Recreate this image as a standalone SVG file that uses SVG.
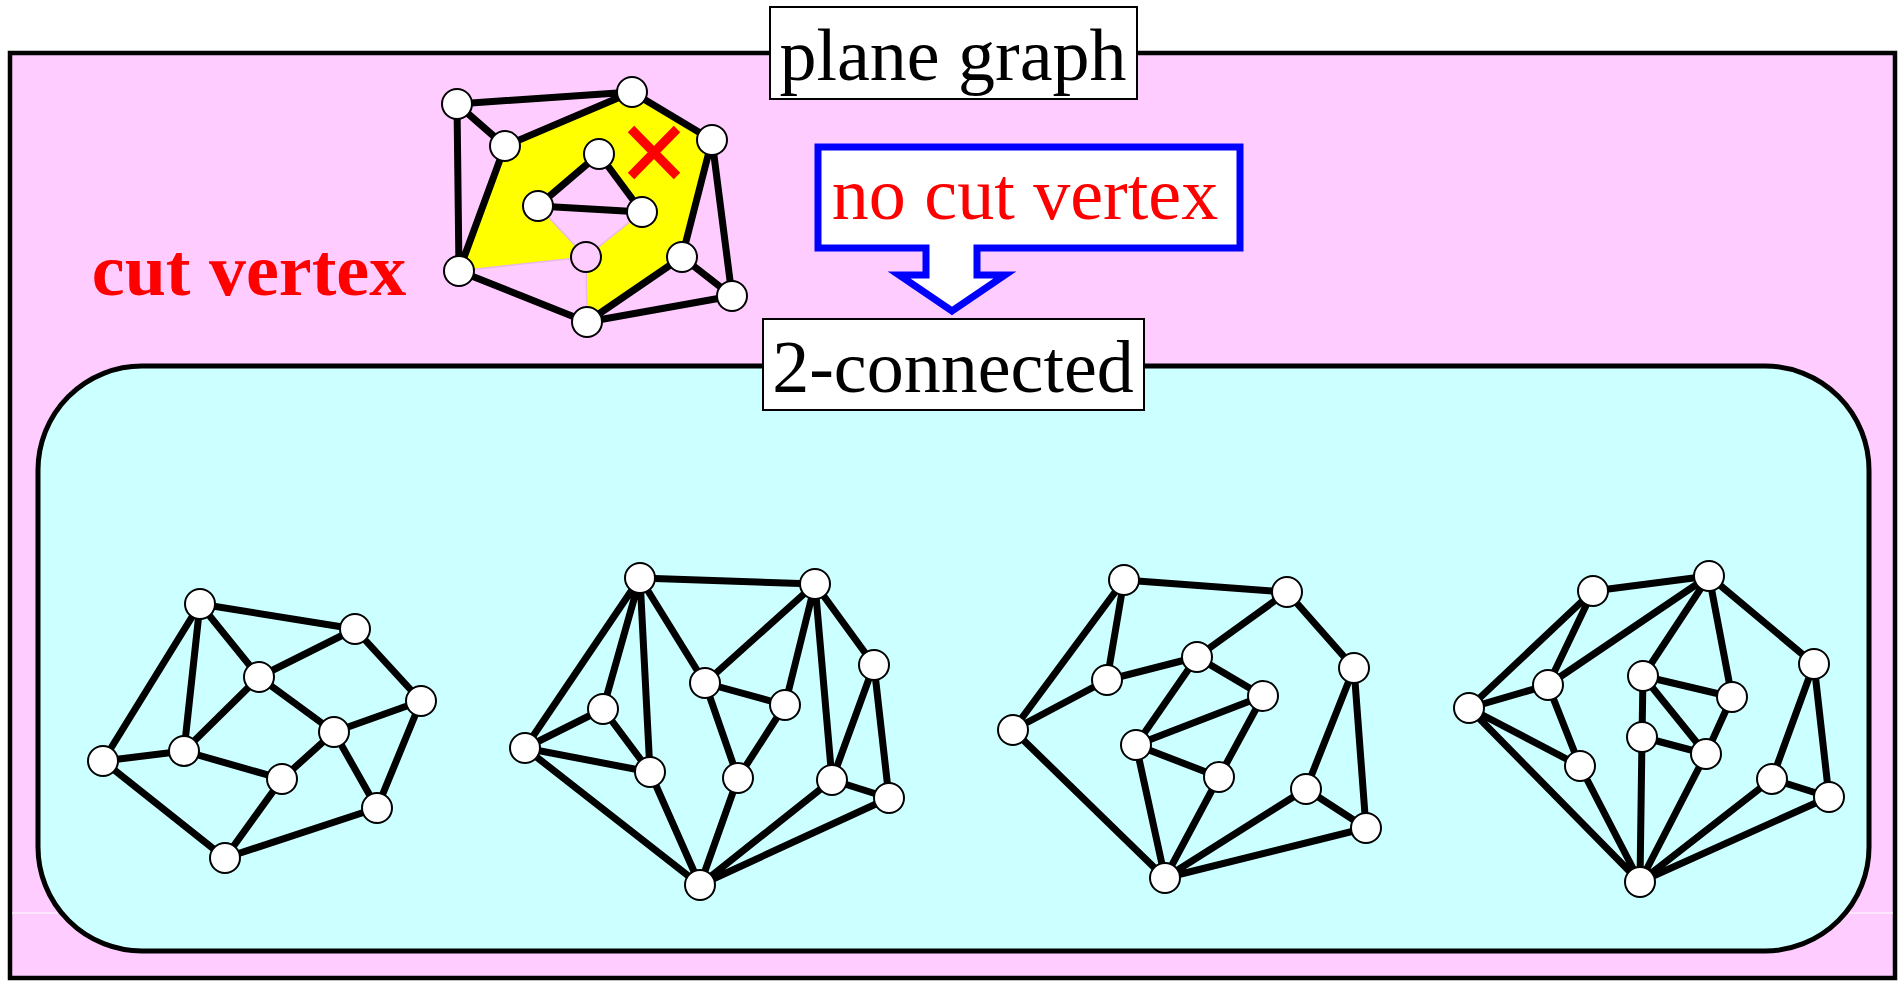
<svg xmlns="http://www.w3.org/2000/svg" width="1898" height="981" viewBox="0 0 1898 981">
<style>
.e{stroke:#000;stroke-width:7;fill:none;stroke-linecap:round}
.n{fill:#fff;stroke:#000;stroke-width:2}
.t{stroke:#E8B8E8;stroke-width:1.5;fill:none}
.lbl{fill:#fff;stroke:#000;stroke-width:2}
.txt{font-family:"Liberation Serif","Times New Roman",serif;font-size:74px;text-anchor:middle}
</style>
<rect width="1898" height="981" fill="#fff"/>
<g id="plane">
<rect x="10" y="53" width="1885" height="925" fill="#FFCCFF" stroke="#000" stroke-width="4.5"/>
<line x1="12" y1="913" x2="60" y2="913" stroke="#fff" stroke-width="1"/>
<line x1="1846" y1="913" x2="1893" y2="913" stroke="#fff" stroke-width="1"/>
</g>
<g id="plane-label">
<rect class="lbl" x="770" y="7" width="367" height="92"/>
<text class="txt" x="953" y="80">plane graph</text>
</g>
<g id="cut-label">
<text x="249" y="295" font-family="Liberation Serif,Times New Roman,serif" font-size="74" font-weight="bold" fill="#FF0000" text-anchor="middle">cut vertex</text>
</g>
<g id="callout">
<path d="M818 147 H1240 V248 H977 V275 H1005 L952 311 L899 275 H926 V248 H818 Z" fill="#fff" stroke="#0000FF" stroke-width="7"/>
<text class="txt" x="1025" y="219" fill="#FF0000">no cut vertex</text>
</g>
<g id="biconnected">
<rect x="38" y="366" width="1831" height="585" rx="104" ry="104" fill="#CCFFFF" stroke="#000" stroke-width="5"/>
</g>
<g id="biconnected-label">
<rect class="lbl" x="763" y="319" width="381" height="91"/>
<text class="txt" x="953" y="392">2-connected</text>
</g>
<g id="cut-graph-face">
<path d="M459 271 L505 146 L632 92 L712 140 L682 257 L587 322 L586 257 Z M586 257 L642 212 L599 154 L538 206 Z" fill="#FFFF00" fill-rule="evenodd"/>
</g>
<g id="connectors">
<g id="cut-removed">
<line class="t" x1="586" y1="257" x2="538" y2="206"/>
<line class="t" x1="586" y1="257" x2="642" y2="212"/>
<line class="t" x1="586" y1="257" x2="459" y2="271"/>
<line class="t" x1="586" y1="257" x2="587" y2="322"/>
</g>
<path class="e" d="M457 104 L632 92 M457 104 L505 146 M457 104 L459 271 M505 146 L632 92 M632 92 L712 140 M505 146 L459 271 M712 140 L682 257 M712 140 L732 296 M682 257 L732 296 M682 257 L587 322 M732 296 L587 322 M459 271 L587 322 M599 154 L538 206 M599 154 L642 212 M538 206 L642 212"/>
<path class="e" d="M200 604 L355 629 M200 604 L259 677 M200 604 L184 751 M200 604 L103 761 M259 677 L355 629 M259 677 L334 732 M259 677 L184 751 M355 629 L421 701 M421 701 L334 732 M421 701 L377 808 M334 732 L282 779 M334 732 L377 808 M184 751 L103 761 M184 751 L282 779 M103 761 L225 858 M282 779 L225 858 M225 858 L377 808"/>
<path class="e" d="M640 578 L815 584 M640 578 L525 748 M640 578 L603 709 M640 578 L650 772 M640 578 L705 683 M815 584 L705 683 M815 584 L785 705 M815 584 L832 780 M815 584 L874 665 M874 665 L832 780 M874 665 L889 798 M705 683 L785 705 M705 683 L738 778 M785 705 L738 778 M603 709 L525 748 M603 709 L650 772 M525 748 L650 772 M525 748 L700 885 M650 772 L700 885 M738 778 L700 885 M832 780 L700 885 M832 780 L889 798 M889 798 L700 885"/>
<path class="e" d="M1124 580 L1287 592 M1124 580 L1013 730 M1124 580 L1107 680 M1107 680 L1013 730 M1107 680 L1197 657 M1197 657 L1287 592 M1287 592 L1354 668 M1197 657 L1263 696 M1197 657 L1136 745 M1136 745 L1263 696 M1136 745 L1219 777 M1263 696 L1219 777 M1136 745 L1165 878 M1219 777 L1165 878 M1013 730 L1165 878 M1354 668 L1306 789 M1354 668 L1366 828 M1306 789 L1366 828 M1306 789 L1165 878 M1366 828 L1165 878"/>
<path class="e" d="M1593 591 L1709 576 M1593 591 L1469 708 M1593 591 L1548 685 M1548 685 L1709 576 M1709 576 L1643 676 M1709 576 L1732 697 M1709 576 L1814 664 M1469 708 L1548 685 M1469 708 L1580 766 M1469 708 L1640 882 M1548 685 L1580 766 M1580 766 L1640 882 M1643 676 L1732 697 M1643 676 L1642 737 M1643 676 L1706 754 M1642 737 L1706 754 M1732 697 L1706 754 M1642 737 L1640 882 M1706 754 L1640 882 M1814 664 L1772 779 M1814 664 L1829 797 M1772 779 L1829 797 M1772 779 L1640 882 M1829 797 L1640 882"/>
</g>
<g id="cross">
<path d="M631 129 L677 176 M677 129 L631 176" stroke="#FF0000" stroke-width="9" fill="none"/>
</g>
<g id="cut-nodes">
<g id="c-A"><circle class="n" cx="457" cy="104" r="15"/></g>
<g id="c-B"><circle class="n" cx="632" cy="92" r="15"/></g>
<g id="c-C"><circle class="n" cx="505" cy="146" r="15"/></g>
<g id="c-D"><circle class="n" cx="712" cy="140" r="15"/></g>
<g id="c-E"><circle class="n" cx="599" cy="154" r="15"/></g>
<g id="c-F"><circle class="n" cx="538" cy="206" r="15"/></g>
<g id="c-G"><circle class="n" cx="642" cy="212" r="15"/></g>
<g id="c-H"><circle cx="586" cy="257" r="15" fill="#FFCCFF" stroke="#000" stroke-width="2"/></g>
<g id="c-I"><circle class="n" cx="459" cy="271" r="15"/></g>
<g id="c-J"><circle class="n" cx="682" cy="257" r="15"/></g>
<g id="c-K"><circle class="n" cx="732" cy="296" r="15"/></g>
<g id="c-L"><circle class="n" cx="587" cy="322" r="15"/></g>
</g>
<g id="graph1">
<g id="g1-a"><circle class="n" cx="200" cy="604" r="15"/></g>
<g id="g1-b"><circle class="n" cx="355" cy="629" r="15"/></g>
<g id="g1-c"><circle class="n" cx="259" cy="677" r="15"/></g>
<g id="g1-d"><circle class="n" cx="421" cy="701" r="15"/></g>
<g id="g1-e"><circle class="n" cx="334" cy="732" r="15"/></g>
<g id="g1-f"><circle class="n" cx="184" cy="751" r="15"/></g>
<g id="g1-g"><circle class="n" cx="103" cy="761" r="15"/></g>
<g id="g1-h"><circle class="n" cx="282" cy="779" r="15"/></g>
<g id="g1-i"><circle class="n" cx="377" cy="808" r="15"/></g>
<g id="g1-j"><circle class="n" cx="225" cy="858" r="15"/></g>
</g>
<g id="graph2">
<g id="g2-a"><circle class="n" cx="640" cy="578" r="15"/></g>
<g id="g2-b"><circle class="n" cx="815" cy="584" r="15"/></g>
<g id="g2-c"><circle class="n" cx="874" cy="665" r="15"/></g>
<g id="g2-d"><circle class="n" cx="705" cy="683" r="15"/></g>
<g id="g2-e"><circle class="n" cx="785" cy="705" r="15"/></g>
<g id="g2-f"><circle class="n" cx="603" cy="709" r="15"/></g>
<g id="g2-g"><circle class="n" cx="525" cy="748" r="15"/></g>
<g id="g2-h"><circle class="n" cx="650" cy="772" r="15"/></g>
<g id="g2-i"><circle class="n" cx="738" cy="778" r="15"/></g>
<g id="g2-j"><circle class="n" cx="832" cy="780" r="15"/></g>
<g id="g2-k"><circle class="n" cx="889" cy="798" r="15"/></g>
<g id="g2-l"><circle class="n" cx="700" cy="885" r="15"/></g>
</g>
<g id="graph3">
<g id="g3-a"><circle class="n" cx="1124" cy="580" r="15"/></g>
<g id="g3-b"><circle class="n" cx="1287" cy="592" r="15"/></g>
<g id="g3-c"><circle class="n" cx="1197" cy="657" r="15"/></g>
<g id="g3-d"><circle class="n" cx="1354" cy="668" r="15"/></g>
<g id="g3-e"><circle class="n" cx="1107" cy="680" r="15"/></g>
<g id="g3-f"><circle class="n" cx="1263" cy="696" r="15"/></g>
<g id="g3-g"><circle class="n" cx="1013" cy="730" r="15"/></g>
<g id="g3-h"><circle class="n" cx="1136" cy="745" r="15"/></g>
<g id="g3-i"><circle class="n" cx="1219" cy="777" r="15"/></g>
<g id="g3-j"><circle class="n" cx="1306" cy="789" r="15"/></g>
<g id="g3-k"><circle class="n" cx="1366" cy="828" r="15"/></g>
<g id="g3-l"><circle class="n" cx="1165" cy="878" r="15"/></g>
</g>
<g id="graph4">
<g id="g4-a"><circle class="n" cx="1709" cy="576" r="15"/></g>
<g id="g4-b"><circle class="n" cx="1593" cy="591" r="15"/></g>
<g id="g4-c"><circle class="n" cx="1814" cy="664" r="15"/></g>
<g id="g4-d"><circle class="n" cx="1643" cy="676" r="15"/></g>
<g id="g4-e"><circle class="n" cx="1548" cy="685" r="15"/></g>
<g id="g4-f"><circle class="n" cx="1732" cy="697" r="15"/></g>
<g id="g4-g"><circle class="n" cx="1469" cy="708" r="15"/></g>
<g id="g4-h"><circle class="n" cx="1642" cy="737" r="15"/></g>
<g id="g4-i"><circle class="n" cx="1706" cy="754" r="15"/></g>
<g id="g4-j"><circle class="n" cx="1580" cy="766" r="15"/></g>
<g id="g4-k"><circle class="n" cx="1772" cy="779" r="15"/></g>
<g id="g4-l"><circle class="n" cx="1829" cy="797" r="15"/></g>
<g id="g4-m"><circle class="n" cx="1640" cy="882" r="15"/></g>
</g>
</svg>
